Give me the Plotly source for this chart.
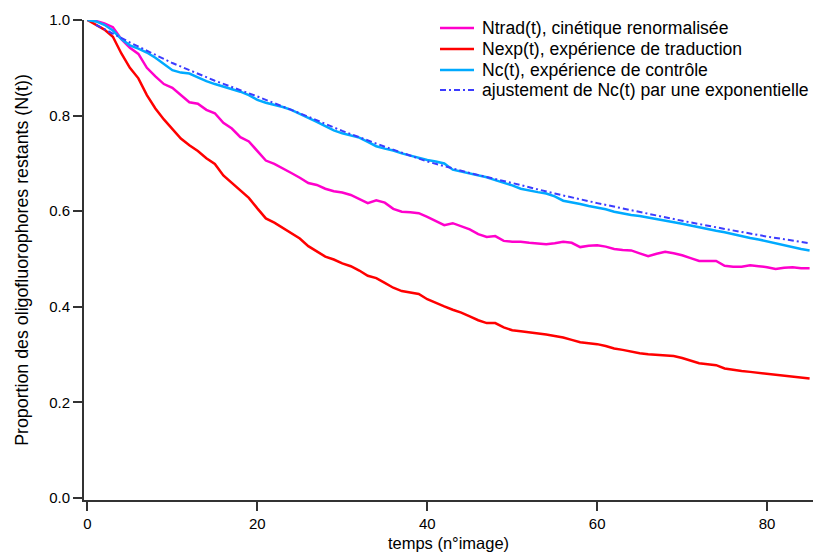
import plotly.graph_objects as go

t = list(range(0, 86))

n_exp = [1.000, 0.990, 0.980, 0.965, 0.930, 0.900, 0.878, 0.843, 0.815, 0.792,
         0.772, 0.752, 0.738, 0.726, 0.711, 0.699, 0.675, 0.660, 0.643, 0.628,
         0.606, 0.585, 0.576, 0.565, 0.553, 0.543, 0.527, 0.516, 0.505, 0.499,
         0.491, 0.485, 0.476, 0.465, 0.460, 0.450, 0.440, 0.433, 0.430, 0.427,
         0.416, 0.408, 0.401, 0.394, 0.388, 0.380, 0.372, 0.366, 0.366, 0.357,
         0.351, 0.349, 0.347, 0.345, 0.342, 0.339, 0.336, 0.331, 0.326, 0.324,
         0.322, 0.318, 0.313, 0.310, 0.306, 0.303, 0.301, 0.300, 0.299, 0.297,
         0.293, 0.288, 0.282, 0.280, 0.278, 0.271, 0.268, 0.266, 0.264, 0.262,
         0.260, 0.258, 0.256, 0.254, 0.252, 0.250]

n_trad = [1.000, 0.998, 0.993, 0.985, 0.960, 0.942, 0.929, 0.900, 0.882, 0.866,
          0.858, 0.842, 0.828, 0.825, 0.812, 0.805, 0.785, 0.773, 0.755, 0.746,
          0.727, 0.706, 0.699, 0.690, 0.680, 0.670, 0.659, 0.655, 0.647, 0.642,
          0.639, 0.634, 0.625, 0.617, 0.623, 0.618, 0.605, 0.599, 0.598, 0.596,
          0.588, 0.579, 0.571, 0.575, 0.569, 0.562, 0.552, 0.546, 0.548, 0.538,
          0.536, 0.536, 0.534, 0.532, 0.531, 0.533, 0.536, 0.534, 0.525, 0.528,
          0.529, 0.526, 0.521, 0.519, 0.518, 0.512, 0.506, 0.511, 0.515, 0.512,
          0.508, 0.502, 0.496, 0.496, 0.496, 0.486, 0.484, 0.484, 0.487, 0.485,
          0.483, 0.479, 0.482, 0.483, 0.481, 0.481]

n_c = [1.000, 0.997, 0.990, 0.978, 0.960, 0.947, 0.940, 0.932, 0.921, 0.908,
       0.895, 0.890, 0.888, 0.880, 0.872, 0.866, 0.861, 0.856, 0.850, 0.843,
       0.833, 0.827, 0.823, 0.818, 0.812, 0.804, 0.795, 0.787, 0.778, 0.769,
       0.763, 0.759, 0.754, 0.745, 0.736, 0.731, 0.727, 0.721, 0.716, 0.712,
       0.707, 0.704, 0.700, 0.687, 0.683, 0.680, 0.676, 0.671, 0.665, 0.660,
       0.654, 0.647, 0.643, 0.640, 0.637, 0.631, 0.622, 0.619, 0.615, 0.611,
       0.608, 0.604, 0.599, 0.595, 0.592, 0.590, 0.587, 0.583, 0.581, 0.578,
       0.574, 0.570, 0.566, 0.562, 0.559, 0.556, 0.552, 0.547, 0.544, 0.541,
       0.537, 0.532, 0.528, 0.524, 0.521, 0.518]

t_fit = [1, 5, 10, 15, 20, 25, 30, 35, 40, 45, 50, 55, 60, 65, 70, 75, 80, 85]
n_fit = [0.990, 0.953, 0.910, 0.873, 0.840, 0.805, 0.768, 0.735, 0.704, 0.680,
         0.659, 0.637, 0.617, 0.598, 0.580, 0.563, 0.547, 0.533]

names = ["Ntrad(t), cinétique renormalisée",
         "Nexp(t), expérience de traduction",
         "Nc(t), expérience de contrôle",
         "ajustement de Nc(t) par une exponentielle"]
colors = ["#ff00cc", "#ff0000", "#00aaff", "#3c3cff"]
widths = [2.5, 2.5, 2.5, 2.0]
dashes = ["solid", "solid", "solid", "6px,3px,2px,3px"]

FONT = "Liberation Sans, Arial, sans-serif"

# plot area geometry (pixels) used to place the hand-made legend
L, R, T, B = 84, 0, 20, 57
W, H = 813, 557
PW, PH = W - L - R, H - T - B


def px_x(p):
    return (p - L) / PW


def px_y(p):
    return (H - B - p) / PH


fig = go.Figure()
series = [(t, n_trad), (t, n_exp), (t, n_c), (t_fit, n_fit)]
for (xs, ys), nm, c, w, d in zip(series, names, colors, widths, dashes):
    fig.add_trace(go.Scatter(x=xs, y=ys, mode="lines", name=nm,
                             line=dict(color=c, width=w, dash=d)))

# legend drawn manually to match the compact spacing
row_y = [28, 49, 70, 90]
shapes = []
annotations = []
for nm, c, w, d, ry in zip(names, colors, widths, dashes, row_y):
    shapes.append(dict(type="line", xref="paper", yref="paper",
                       x0=px_x(440), x1=px_x(474), y0=px_y(ry), y1=px_y(ry),
                       line=dict(color=c, width=w, dash=d)))
    annotations.append(dict(xref="paper", yref="paper", x=px_x(480), y=px_y(ry),
                            xanchor="left", yanchor="middle", showarrow=False,
                            text=nm, font=dict(size=17.6, family=FONT, color="black")))

fig.update_layout(
    width=W, height=H,
    margin=dict(l=L, r=R, t=T, b=B),
    paper_bgcolor="white", plot_bgcolor="white",
    font=dict(family=FONT, size=15, color="black"),
    showlegend=False,
    shapes=shapes,
    annotations=annotations,
    xaxis=dict(range=[-0.4, 85.4], tickvals=[0, 20, 40, 60, 80],
               showgrid=False, zeroline=False, showline=True,
               linecolor="#333333", linewidth=2,
               ticks="outside", ticklen=9, tickwidth=1.8, tickcolor="#333333",
               tickfont=dict(size=15),
               title=dict(text="temps (n°image)", font=dict(size=16.5), standoff=6)),
    yaxis=dict(range=[-0.004, 1.0], tickvals=[0, 0.2, 0.4, 0.6, 0.8, 1.0],
               tickformat=".1f",
               showgrid=False, zeroline=False, showline=True,
               linecolor="#333333", linewidth=2,
               ticks="outside", ticklen=9, tickwidth=1.8, tickcolor="#333333",
               tickfont=dict(size=15),
               title=dict(text="Proportion des oligofluorophores restants (N(t))",
                          font=dict(size=17.8), standoff=16)),
)

fig.write_html("out.html")
